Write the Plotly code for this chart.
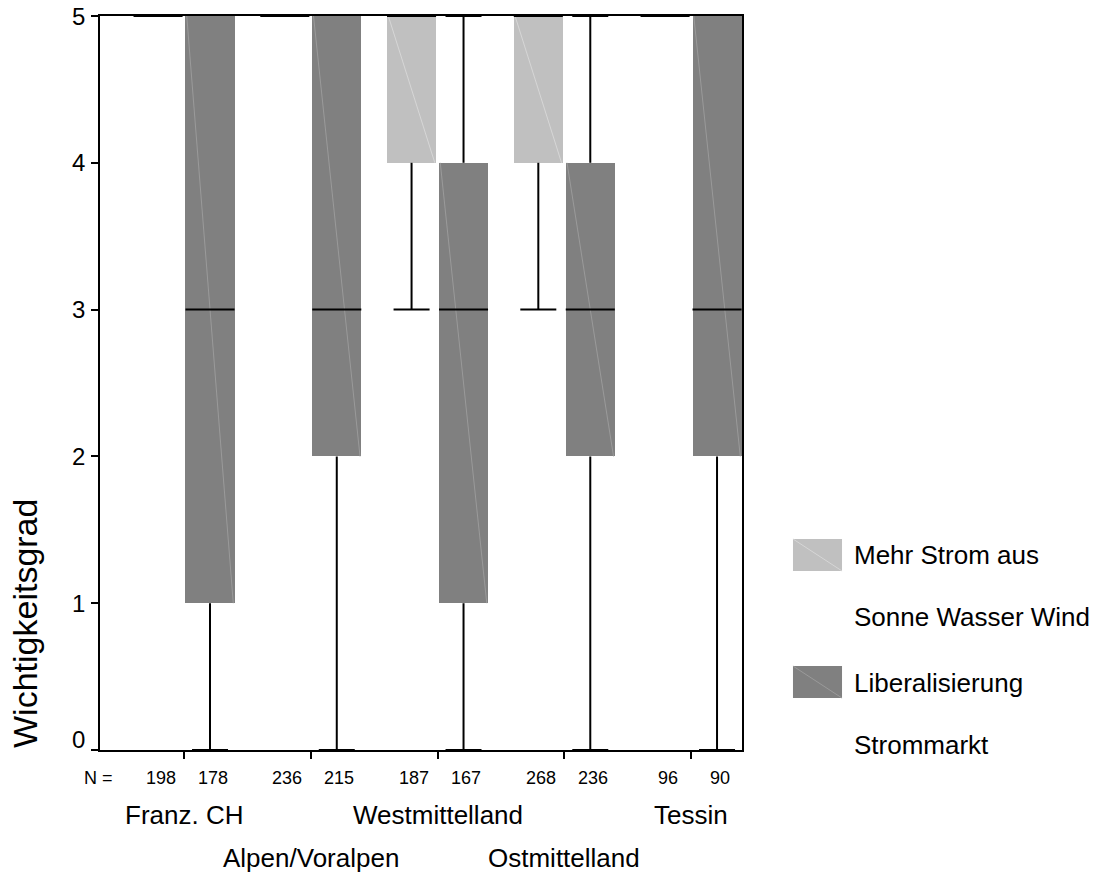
import plotly.graph_objects as go

# Regions and sample sizes
groups = ["Franz. CH", "Alpen/Voralpen", "Westmittelland", "Ostmittelland", "Tessin"]
n_sonne = [198, 236, 187, 268, 96]
n_lib = [178, 215, 167, 236, 90]

# Box statistics: "Mehr Strom aus Sonne Wasser Wind"
sonne_lo = [5, 5, 3, 3, 5]
sonne_q1 = [5, 5, 4, 4, 5]
sonne_med = [5, 5, 5, 5, 5]
sonne_q3 = [5, 5, 5, 5, 5]
sonne_hi = [5, 5, 5, 5, 5]

# Box statistics: "Liberalisierung Strommarkt"
lib_lo = [0, 0, 0, 0, 0]
lib_q1 = [1, 2, 1, 2, 2]
lib_med = [3, 3, 3, 3, 3]
lib_q3 = [5, 5, 4, 4, 5]
lib_hi = [5, 5, 5, 5, 5]

y_ticks = [0, 1, 2, 3, 4, 5]

LIGHT = "#c0c0c0"
DARK = "#808080"
FONT = "Liberation Sans, Arial, sans-serif"

OFFSET = 0.205
BOX_W = 0.387
CAP_W = 0.284

fig = go.Figure()


def add_series(offset, lo, q1, med, q3, hi, color, streak):
    pos = [i + 1 + offset for i in range(len(groups))]
    fig.add_trace(go.Bar(
        x=pos, y=[b - a for a, b in zip(q1, q3)], base=q1, width=BOX_W,
        marker=dict(color=color, line=dict(width=0)), showlegend=False,
        hoverinfo="skip"))
    # faint diagonal streak across each box
    sx, sy = [], []
    for p, a, b in zip(pos, q1, q3):
        if b > a:
            sx += [p - BOX_W / 2 + 0.01, p + BOX_W / 2 - 0.01, None]
            sy += [b, a, None]
    fig.add_trace(go.Scatter(x=sx, y=sy, mode="lines",
                             line=dict(color=streak, width=1),
                             showlegend=False, hoverinfo="skip"))
    # whiskers, caps and medians
    lx, ly = [], []
    for p, l, a, m, b, h in zip(pos, lo, q1, med, q3, hi):
        if h > b:
            lx += [p, p, None, p - CAP_W / 2, p + CAP_W / 2, None]
            ly += [b, h, None, h, h, None]
        if l < a:
            lx += [p, p, None, p - CAP_W / 2, p + CAP_W / 2, None]
            ly += [a, l, None, l, l, None]
        lx += [p - BOX_W / 2, p + BOX_W / 2, None]
        ly += [m, m, None]
    fig.add_trace(go.Scatter(x=lx, y=ly, mode="lines",
                             line=dict(color="black", width=2),
                             showlegend=False, hoverinfo="skip",
                             cliponaxis=False))
    return pos


pos_s = add_series(-OFFSET, sonne_lo, sonne_q1, sonne_med, sonne_q3, sonne_hi, LIGHT, "#d6d6d6")
pos_l = add_series(OFFSET, lib_lo, lib_q1, lib_med, lib_q3, lib_hi, DARK, "#9a9a9a")

ann = []


def text(x, y, s, size, xref="paper", yref="paper", **kw):
    d = dict(x=x, y=y, xref=xref, yref=yref, text=s, showarrow=False,
             xanchor="center", yanchor="middle",
             font=dict(size=size, color="black", family=FONT))
    d.update(kw)
    ann.append(d)


# sample sizes under each box
text(-0.0023, -0.0381, "N =", 18)
for p, n in zip(pos_s + pos_l, n_sonne + n_lib):
    text(p + 0.02, -0.0381, str(n), 18, xref="x")
# region names on two staggered rows
for i, g in enumerate(groups):
    text(i + 1, -0.0886 if i % 2 == 0 else -0.147, g, 26, xref="x")
# y tick labels
for t in y_ticks:
    text(0, t, str(t), 24, yref="y", xanchor="right", xshift=-13,
         yshift=11 if t == 0 else 0)
# y axis title
text(-0.1168, 0.1717, "Wichtigkeitsgrad", 34, textangle=-90)

# legend
shapes = []
legend_items = [(LIGHT, "#d6d6d6", 0.2875, 0.2439, ["Mehr Strom aus", "Sonne Wasser Wind"], [0.2657, 0.1812]),
                (DARK, "#9a9a9a", 0.1144, 0.0708, ["Liberalisierung", "Strommarkt"], [0.0913, 0.0068])]
for col, streak, y0, y1, lines, ys in legend_items:
    shapes.append(dict(type="rect", xref="paper", yref="paper", x0=1.0794, x1=1.1558,
                       y0=y1, y1=y0, fillcolor=col, line=dict(width=0)))
    shapes.append(dict(type="line", xref="paper", yref="paper", x0=1.0794, x1=1.1558,
                       y0=y0, y1=y1, line=dict(color=streak, width=1)))
    for txt, yy in zip(lines, ys):
        text(1.1713, yy, txt, 26, xanchor="left")

fig.update_layout(
    width=1104, height=872,
    margin=dict(l=100, r=362, t=16, b=122),
    paper_bgcolor="white", plot_bgcolor="white",
    barmode="overlay", bargap=0,
    annotations=ann, shapes=shapes,
    font=dict(family=FONT, color="black"),
    xaxis=dict(range=[0.337, 5.402], tickvals=[1, 2, 3, 4, 5], showticklabels=False,
               ticks="outside", ticklen=7, tickwidth=2, tickcolor="black",
               showline=True, linewidth=2, linecolor="black", mirror=True,
               showgrid=False, zeroline=False, fixedrange=True),
    yaxis=dict(range=[0, 5], tickvals=y_ticks, showticklabels=False,
               ticks="outside", ticklen=7, tickwidth=2, tickcolor="black",
               showline=True, linewidth=2, linecolor="black", mirror=True,
               showgrid=False, zeroline=False, fixedrange=True),
)

fig.write_html("out.html")
